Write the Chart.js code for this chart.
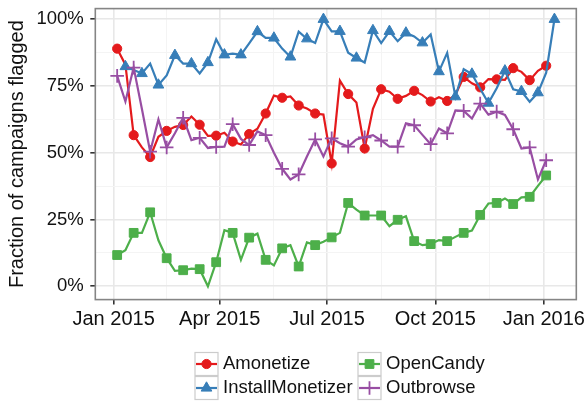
<!DOCTYPE html>
<html>
<head>
<meta charset="utf-8">
<script src="https://cdn.jsdelivr.net/npm/chart.js@4.4.1/dist/chart.umd.min.js"></script>
<style>
  html, body { margin: 0; padding: 0; background: #fff; }
  #wrap { width: 586px; height: 402px; position: relative; }
</style>
</head>
<body>
<div id="wrap"><canvas id="chart"></canvas></div>
<script>
// Weekly share of campaigns flagged, per PPI network.

const weeks = [
  '2015-01-04', '2015-01-11', '2015-01-18', '2015-01-25',
  '2015-02-01', '2015-02-08', '2015-02-15', '2015-02-22',
  '2015-03-01', '2015-03-08', '2015-03-15', '2015-03-22', '2015-03-29',
  '2015-04-05', '2015-04-12', '2015-04-19', '2015-04-26',
  '2015-05-03', '2015-05-10', '2015-05-17', '2015-05-24', '2015-05-31',
  '2015-06-07', '2015-06-14', '2015-06-21', '2015-06-28',
  '2015-07-05', '2015-07-12', '2015-07-19', '2015-07-26',
  '2015-08-02', '2015-08-09', '2015-08-16', '2015-08-23', '2015-08-30',
  '2015-09-06', '2015-09-13', '2015-09-20', '2015-09-27',
  '2015-10-04', '2015-10-11', '2015-10-18', '2015-10-25',
  '2015-11-01', '2015-11-08', '2015-11-15', '2015-11-22', '2015-11-29',
  '2015-12-06', '2015-12-13', '2015-12-20', '2015-12-27',
  '2016-01-03', '2016-01-10',
];

const amonetize = [
  0.89, 0.83, 0.566, 0.52, 0.484, 0.56, 0.582, 0.597, 0.604, 0.636,
  0.605, 0.563, 0.564, 0.575, 0.542, 0.531, 0.57, 0.59, 0.647, 0.714,
  0.706, 0.711, 0.677, 0.666, 0.647, 0.643, 0.46, 0.77, 0.72, 0.688,
  0.516, 0.665, 0.738, 0.729, 0.702, 0.713, 0.732, 0.716, 0.692, 0.708,
  0.694, 0.717, 0.784, 0.76, 0.745, 0.776, 0.775, 0.773, 0.817, 0.803,
  0.772, 0.807, 0.826, null,
];

const installMonetizer = [
  null, 0.823, 0.81, 0.797, 0.834, 0.754, 0.79, 0.865, 0.834, 0.834,
  0.797, 0.838, 0.925, 0.867, 0.871, 0.867, 0.91, 0.954, 0.93, 0.93,
  0.89, 0.859, 0.954, 0.927, 0.911, 1.0, 0.955, 0.955, 0.875, 0.855,
  0.838, 0.958, 0.911, 0.955, 0.918, 0.949, 0.936, 0.912, 0.943, 0.804,
  0.874, 0.71, 0.813, 0.795, 0.74, 0.686, 0.742, 0.807, 0.738, 0.73,
  0.691, 0.725, 0.80, 1.0,
];

const openCandy = [
  0.117, 0.135, 0.20, 0.20, 0.277, 0.172, 0.105, 0.058, 0.06, 0.066,
  0.064, 0.0, 0.09, 0.21, 0.20, 0.099, 0.182, 0.197, 0.099, 0.078,
  0.142, 0.154, 0.074, 0.164, 0.154, 0.167, 0.183, 0.20, 0.312, 0.287,
  0.265, 0.265, 0.265, 0.225, 0.249, 0.262, 0.169, 0.154, 0.158, 0.173,
  0.169, 0.185, 0.20, 0.209, 0.267, 0.31, 0.312, 0.329, 0.308, 0.333,
  0.335, 0.376, 0.415, null,
];

const outbrowse = [
  0.788, 0.692, 0.819, 0.664, 0.504, 0.625, 0.52, 0.573, 0.631, 0.547,
  0.556, 0.518, 0.522, 0.523, 0.607, 0.552, 0.529, 0.58, 0.566, 0.50,
  0.44, 0.40, 0.419, 0.486, 0.55, 0.486, 0.554, 0.536, 0.523, 0.55,
  0.558, 0.566, 0.546, 0.523, 0.523, 0.61, 0.603, 0.567, 0.532, 0.591,
  0.573, 0.659, 0.657, 0.628, 0.684, 0.643, 0.654, 0.642, 0.588, 0.516,
  0.52, 0.40, 0.472, null,
];

const seriesNames = ['Amonetize', 'InstallMonetizer', 'OpenCandy', 'Outbrowse'];

const xTickDates = ['2015-01-01', '2015-04-01', '2015-07-01', '2015-10-01', '2016-01-01'];
const xTickLabels = ['Jan 2015', 'Apr 2015', 'Jul 2015', 'Oct 2015', 'Jan 2016'];
const yTickValues = [0, 0.25, 0.5, 0.75, 1];
const yTickLabels = ['0%', '25%', '50%', '75%', '100%'];

const COLORS = {
  red: '#e41a1c',
  blue: '#377eb8',
  green: '#4daf4a',
  purple: '#984ea3',
  text: '#111111',
  grid: '#e8e8e8',
  gridMinor: '#f4f4f4',
  tick: '#333333',
  border: '#858585',
  keyBorder: '#cccccc',
};
const FONT = 'Liberation Sans, Arial, Helvetica, sans-serif';

const DAY0 = Date.UTC(2015, 0, 1);
const dayOf = s => (Date.parse(s) - DAY0) / 864e5;

const seriesValues = [amonetize, installMonetizer, openCandy, outbrowse];
const styles = [
  { color: COLORS.red, pointStyle: 'circle', radius: 4.6, order: 4 },
  { color: COLORS.blue, pointStyle: 'triangle', radius: 6.2, order: 3 },
  { color: COLORS.green, pointStyle: 'rect', radius: 6.2, order: 2 },
  { color: COLORS.purple, pointStyle: 'cross', radius: 6.8, order: 1 },
];

const xDays = weeks.map(dayOf);
const xSpan = xDays[xDays.length - 1] - xDays[0];
const xMin = xDays[0] - 0.05 * xSpan;
const xMax = xDays[xDays.length - 1] + 0.05 * xSpan;

function midpoints(arr) {
  const out = [];
  for (let i = 0; i < arr.length - 1; i++) out.push((arr[i] + arr[i + 1]) / 2);
  return out;
}

// markers on every other week, counted from each series' first observation
function markerEvery2(values, r) {
  const first = values.findIndex(v => v != null);
  return ctx => ((ctx.dataIndex - first) % 2 === 0 ? r : 0);
}

const datasets = seriesValues.map((vals, i) => {
  const s = styles[i];
  return {
    label: seriesNames[i],
    data: vals.map((v, k) => ({ x: xDays[k], y: v })),
    borderColor: s.color,
    backgroundColor: s.color,
    borderWidth: 2.2,
    tension: 0,
    spanGaps: false,
    order: s.order,
    pointStyle: s.pointStyle,
    pointRadius: markerEvery2(vals, s.radius),
    pointHoverRadius: 0,
    pointBorderWidth: s.pointStyle === 'cross' ? 1.8 : 1,
    pointBackgroundColor: s.color,
    pointBorderColor: s.color,
  };
});

const gridOpts = {
  color: c => (c.tick && c.tick.minor ? COLORS.gridMinor : COLORS.grid),
  lineWidth: c => (c.tick && c.tick.minor ? 1 : 1.6),
  tickColor: c => (c.tick && c.tick.minor ? 'rgba(0,0,0,0)' : COLORS.tick),
  tickWidth: 1.6,
  tickLength: 5,
};

const panelBorder = {
  id: 'panelBorder',
  afterDraw(chart) {
    const { ctx, chartArea: a } = chart;
    ctx.save();
    ctx.strokeStyle = COLORS.border;
    ctx.lineWidth = 1.6;
    ctx.strokeRect(a.left, a.top, a.right - a.left, a.bottom - a.top);
    ctx.restore();
  },
};

const ggLegend = {
  id: 'ggLegend',
  afterDraw(chart) {
    const ctx = chart.ctx;
    const colX = [195, 358];
    const rowY = [364, 388];
    const key = 23;
    ctx.save();
    chart.data.datasets.forEach((ds, i) => {
      const x = colX[Math.floor(i / 2)];
      const yc = rowY[i % 2];
      ctx.strokeStyle = COLORS.keyBorder;
      ctx.lineWidth = 1.2;
      ctx.strokeRect(x, yc - key / 2, key, key);
      ctx.strokeStyle = ds.borderColor;
      ctx.lineWidth = 2.2;
      ctx.beginPath();
      ctx.moveTo(x + 1, yc);
      ctx.lineTo(x + key - 1, yc);
      ctx.stroke();
      ctx.fillStyle = ds.pointBackgroundColor;
      ctx.strokeStyle = ds.pointBorderColor;
      ctx.lineWidth = ds.pointBorderWidth;
      Chart.helpers.drawPoint(ctx, {
        pointStyle: ds.pointStyle,
        radius: styles[i].radius,
        rotation: 0,
        borderWidth: ds.pointBorderWidth,
      }, x + key / 2, yc);
      ctx.fillStyle = COLORS.text;
      ctx.font = '18.5px ' + FONT;
      ctx.textBaseline = 'middle';
      ctx.textAlign = 'left';
      ctx.fillText(ds.label, x + key + 5, yc);
    });
    ctx.restore();
  },
};

new Chart(document.getElementById('chart'), {
  type: 'line',
  data: { datasets },
  plugins: [panelBorder, ggLegend],
  options: {
    responsive: true,
    maintainAspectRatio: false,
    animation: false,
    events: [],
    layout: { padding: { left: 0, top: 2.1, right: 9.7, bottom: 60.4 } },
    plugins: { legend: { display: false }, tooltip: { enabled: false } },
    scales: {
      x: {
        type: 'linear',
        bounds: 'data',
        min: xMin,
        max: xMax,
        afterBuildTicks: scale => {
          const major = xTickDates.map(dayOf);
          scale.ticks = major.map((v, i) => ({ value: v, text: xTickLabels[i] }))
            .concat(midpoints(major).map(v => ({ value: v, minor: true, text: '' })));
        },
        afterFit: scale => {
          scale.height = 42;
          scale.paddingLeft = 0;
          scale.paddingRight = 0;
        },
        grid: gridOpts,
        border: { display: false },
        ticks: {
          autoSkip: false,
          maxRotation: 0,
          padding: 3,
          color: COLORS.text,
          font: { family: FONT, size: 20 },
          callback: (v, i, ticks) => ticks[i].text,
        },
      },
      y: {
        type: 'linear',
        bounds: 'data',
        min: -0.05,
        max: 1.04,
        afterBuildTicks: scale => {
          scale.ticks = yTickValues.map((v, i) => ({ value: v, text: yTickLabels[i] }))
            .concat(midpoints(yTickValues).map(v => ({ value: v, minor: true, text: '' })));
        },
        afterFit: scale => {
          scale.width = 95.3;
          scale.paddingTop = 0;
          scale.paddingBottom = 0;
        },
        grid: gridOpts,
        border: { display: false },
        title: {
          display: true,
          text: 'Fraction of campaigns flagged',
          color: COLORS.text,
          font: { family: FONT, size: 20 },
          padding: { top: 5, bottom: 0 },
        },
        ticks: {
          autoSkip: false,
          padding: 6.5,
          color: COLORS.text,
          font: { family: FONT, size: 18.5 },
          callback: (v, i, ticks) => ticks[i].text,
        },
      },
    },
  },
});
</script>
</body>
</html>
